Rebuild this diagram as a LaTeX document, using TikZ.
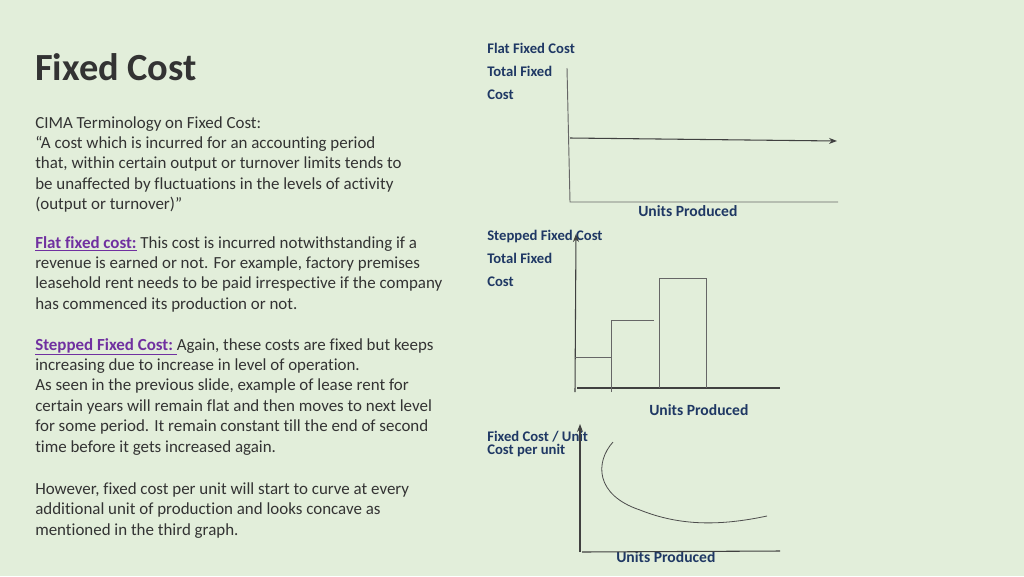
\documentclass[tikz,border=0pt]{standalone}
\usepackage{fontspec}
\setmainfont{Carlito}[Ligatures={NoCommon}]
\usetikzlibrary{arrows.meta}
\definecolor{bg}{HTML}{E2EEDA}
\definecolor{txt}{HTML}{333333}
\definecolor{lnk}{HTML}{7030A0}
\definecolor{navy}{HTML}{1F3864}
\tikzset{
  body/.style={anchor=base west,inner sep=0pt,text=txt,font=\fontsize{12.7pt}{14pt}\selectfont},
  glab/.style={anchor=base west,inner sep=0pt,text=navy,font=\fontsize{11pt}{12pt}\selectfont\bfseries},
  ulab/.style={anchor=base west,inner sep=0pt,text=navy,font=\fontsize{11.7pt}{13pt}\selectfont\bfseries},
  axis/.style={draw=black!75,line width=0.8pt},
  thin/.style={draw=black!60,line width=0.7pt},
}
\newcommand{\lk}[1]{\textcolor{lnk}{\bfseries\underline{#1}}}
\begin{document}
\begin{tikzpicture}[x=0.75pt,y=-0.75pt]
\fill[bg] (0,0) rectangle (1024,576);
\useasboundingbox (0,0) rectangle (1024,576);
\node[anchor=base west,inner sep=0pt,text=txt,font=\fontsize{28.8pt}{32pt}\selectfont\bfseries] (title) at (35,80) {Fixed Cost};
\node[body] (l1) at (35,128) {CIMA Terminology on Fixed Cost:};
\node[body] (l2) at (35,148) {“A cost which is incurred for an accounting period};
\node[body] (l3) at (35,168) {that, within certain output or turnover limits tends to};
\node[body] (l4) at (35,189) {be unaffected by fluctuations in the levels of activity};
\node[body] (l5) at (35,209) {(output or turnover)”};
\node[body] (l6) at (35,248) {\lk{Flat fixed cost:} This cost is incurred notwithstanding if a};
\node[body] (l7) at (35,268) {revenue is earned or not. For example, factory premises};
\node[body] (l8) at (35,288) {leasehold rent needs to be paid irrespective if the company};
\node[body] (l9) at (35,309) {has commenced its production or not.};
\node[body] (l10) at (35,350) {\lk{Stepped Fixed Cost:\ }Again, these costs are fixed but keeps};
\node[body] (l11) at (35,370) {increasing due to increase in level of operation.};
\node[body] (l12) at (35,390) {As seen in the previous slide, example of lease rent for};
\node[body] (l13) at (35,411) {certain years will remain flat and then moves to next level};
\node[body] (l14) at (35,431) {for some period. It remain constant till the end of second};
\node[body] (l15) at (35,452) {time before it gets increased again.};
\node[body] (l16) at (35,494) {However, fixed cost per unit will start to curve at every};
\node[body] (l17) at (35,514) {additional unit of production and looks concave as};
\node[body] (l18) at (35,535) {mentioned in the third graph.};
% graph 1
\node[glab] (g1a) at (487,53) {Flat Fixed Cost};
\node[glab] (g1b) at (487,76) {Total Fixed};
\node[glab] (g1c) at (487,99) {Cost};
\node[ulab] (g1u) at (638,216) {Units Produced};
\coordinate (a1t) at (567,68); \coordinate (a1o) at (570,202); \coordinate (a1r) at (838,202);
\draw[thin] (a1t) -- (a1o) -- (a1r);
\coordinate (f1) at (570,138); \coordinate (f2) at (837,141);
\draw[axis,-{Stealth[length=6pt]}] (f1) -- (f2);
% graph 2
\node[glab] (g2a) at (487,240) {Stepped Fixed Cost};
\node[glab] (g2b) at (487,263) {Total Fixed};
\node[glab] (g2c) at (487,286) {Cost};
\node[ulab] (g2u) at (649,415) {Units Produced};
\coordinate (a2b) at (575,392); \coordinate (a2t) at (576,234);
\draw[axis,-{Stealth[length=6pt]}] (a2b) -- (a2t);
\coordinate (a2l) at (577,388); \coordinate (a2r) at (780,388);
\draw[axis] (a2l) -- (a2r);
\draw[thin] (575,357) -- (611,357) (611,392) -- (611,320) -- (654,320)
  (659,388) -- (659,278) -- (706,278) -- (706,388);
% graph 3
\node[glab] (g3a) at (487,441) {Fixed Cost / Unit};
\node[glab] (g3b) at (487,454) {Cost per unit};
\node[ulab] (g3u) at (616,562) {Units Produced};
\coordinate (a3b) at (580,552); \coordinate (a3t) at (580,424);
\draw[axis,-{Stealth[length=6pt]}] (a3b) -- (a3t);
\coordinate (a3l) at (582,552); \coordinate (a3r) at (780,551);
\draw[axis] (a3l) -- (a3r);
\draw[black!70,line width=0.6pt] (613,442) .. controls (595,462) and (595,495) .. (640,510)
  .. controls (680,526) and (720,526) .. (767,516);
\end{tikzpicture}
\end{document}
